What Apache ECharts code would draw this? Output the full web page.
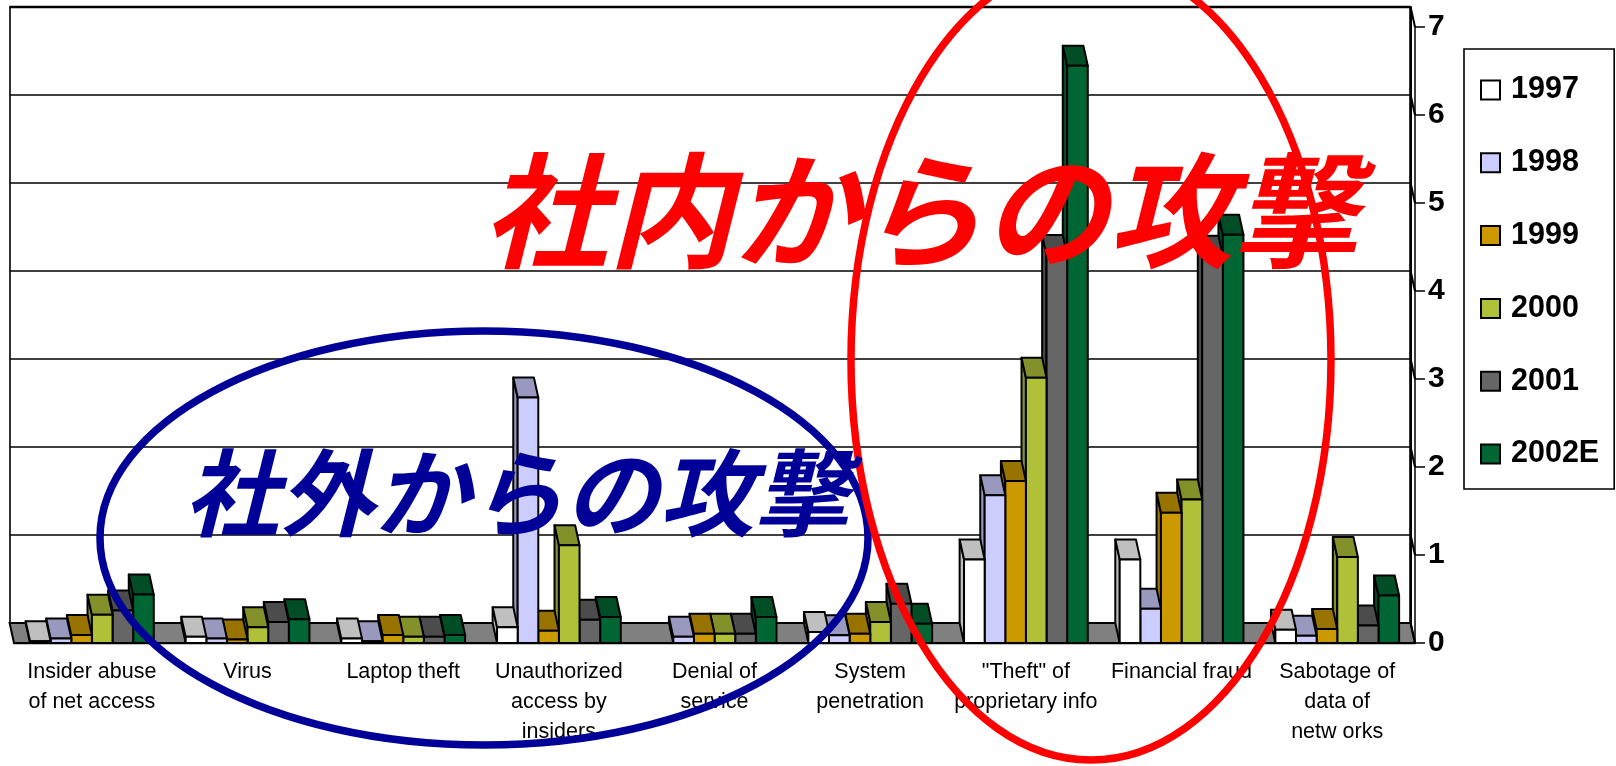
<!DOCTYPE html>
<html><head><meta charset="utf-8">
<style>html,body{margin:0;padding:0;background:#fff}#c{width:1616px;height:766px}</style>
<script src="https://cdn.jsdelivr.net/npm/echarts@6/dist/echarts.min.js"></script>
</head><body><div id="c"></div>
<script>
const categories = ['Insider abuse\nof net access','Virus','Laptop theft','Unauthorized\naccess by\ninsiders','Denial of\nservice','System\npenetration','"Theft" of\nproprietary info','Financial fraud','Sabotage of\ndata of\nnetw orks'];
const years = ['1997','1998','1999','2000','2001','2002E'];
const v1997 = [0.02,0.07,0.05,0.18,0,0.125,0.95,0.95,0.15];
const v1998 = [0.05,0.05,0.02,2.79,0.07,0.087,1.68,0.39,0.083];
const v1999 = [0.09,0.04,0.09,0.14,0.105,0.105,1.84,1.48,0.16];
const v2000 = [0.32,0.18,0.07,1.11,0.105,0.24,3.015,1.63,0.977];
const v2001 = [0.37,0.24,0.07,0.265,0.105,0.447,4.41,4.40,0.2];
const v2002 = [0.55,0.27,0.09,0.295,0.295,0.22,6.56,4.64,0.54];
const values = [v1997,v1998,v1999,v2000,v2001,v2002];
const frontColors = ['#FFFFFF','#CCCCFF','#CC9900','#B0C038','#666666','#006633'];
const topColors = ['#BFBFBF','#9999BF','#997300','#849029','#4C4C4C','#004D26'];
const yTicks = [0,1,2,3,4,5,6,7];
const DX = -4.4, DY = -20, LW = 2;

const chart = echarts.init(document.getElementById('c'), null, {renderer:'canvas'});
const barSeries = years.map((y,s)=>({
  type:'custom', name:y, xAxisIndex:1, yAxisIndex:1, z:3+(years.length-s),
  itemStyle:{color:frontColors[s],borderColor:'#000',borderWidth:2},
  data: values[s].map((v,i)=>[i,v]),
  renderItem(params,api){
    const i=api.value(0), v=api.value(1);
    if(!v) return {type:'group',children:[]};
    const band=api.size([1,0])[0];
    const c=api.coord([i,v]), b=api.coord([i,0]);
    const pad=band*0.103, w=band*0.1325;
    const x=c[0]-band/2+pad+s*w, yT=c[1], yB=b[1];
    const st=(f)=>({fill:f,stroke:'#000',lineWidth:LW,lineJoin:'round'});
    return {type:'group',children:[
      {type:'polygon',shape:{points:[[x,yT],[x+DX,yT+DY],[x+DX,yB+DY],[x,yB]]},style:st(topColors[s])},
      {type:'polygon',shape:{points:[[x,yT],[x+DX,yT+DY],[x+w+DX,yT+DY],[x+w,yT]]},style:st(topColors[s])},
      {type:'rect',shape:{x:x,y:yT,width:w,height:yB-yT},style:st(frontColors[s])}
    ]};
  }
}));
const floorSeries = {
  type:'custom', xAxisIndex:1, yAxisIndex:1, z:2, silent:true, legendHoverLink:false,
  data:[[0,0]],
  renderItem(params,api){
    const band=api.size([1,0])[0];
    const a=api.coord([0,0]), e=api.coord([categories.length-1,0]);
    const l=a[0]-band/2, r=e[0]+band/2, y=a[1];
    return {type:'polygon',shape:{points:[[l,y],[l+DX,y+DY],[r+DX,y+DY],[r,y]]},
      style:{fill:'#808080',stroke:'#000',lineWidth:LW}};
  }
};
const wallSeries = {
  type:'custom', xAxisIndex:1, yAxisIndex:1, z:2, silent:true,
  data:yTicks.map(t=>[categories.length-1,t]),
  renderItem(params,api){
    const band=api.size([1,0])[0];
    const c=api.coord([api.value(0),api.value(1)]);
    const r=c[0]+band/2, y=c[1];
    const kids=[{type:'line',shape:{x1:r,y1:y,x2:r+DX,y2:y+DY},style:{stroke:'#000',lineWidth:LW}}];
    if(api.value(1)<7){
      const t=api.coord([api.value(0),api.value(1)+1])[1];
      kids.push({type:'line',shape:{x1:r+DX,y1:t+DY,x2:r+DX,y2:y+DY},style:{stroke:'#000',lineWidth:2.8}});
    } else {
      const l=api.coord([0,0])[0]-band/2;
      kids.push({type:'line',shape:{x1:l+DX,y1:y+DY,x2:r+DX,y2:y+DY},style:{stroke:'#000',lineWidth:2.6}});
    }
    return {type:'group',children:kids};
  }
};

chart.setOption({
  animation:false, backgroundColor:'#fff',
  grid:[
    {left:10,top:7,width:1401,height:616,show:true,borderColor:'#000',borderWidth:1.6,backgroundColor:'#fff'},
    {left:14,top:27,width:1401,height:616}
  ],
  xAxis:[
    {gridIndex:0,type:'category',data:categories,axisLine:{show:false},axisTick:{show:false},axisLabel:{show:false}},
    {gridIndex:1,type:'category',data:categories,
      axisLine:{lineStyle:{color:'#000',width:2.4}},
      axisTick:{length:10,interval:0,lineStyle:{color:'#000',width:1.5}},
      axisLabel:{interval:0,color:'#000',fontFamily:'"Liberation Sans",Arial,sans-serif',fontSize:21.5,lineHeight:30,margin:14,hideOverlap:false}}
  ],
  yAxis:[
    {gridIndex:0,type:'value',min:0,max:7,interval:1,axisLine:{show:false},axisTick:{show:false},axisLabel:{show:false},
      splitLine:{show:true,lineStyle:{color:'#000',width:1.6}}},
    {gridIndex:1,type:'value',min:0,max:7,interval:1,position:'right',splitLine:{show:false},
      axisLine:{show:true,onZero:false,lineStyle:{color:'#000',width:1.5}},
      axisTick:{show:true,length:10,lineStyle:{color:'#000',width:1.5}},
      axisLabel:{color:'#000',fontFamily:'"Liberation Sans",Arial,sans-serif',fontSize:30,fontWeight:'bold',margin:13}}
  ],
  legend:{
    show:true,orient:'vertical',left:1464,top:49,data:years,icon:'rect',
    itemWidth:19,itemHeight:19,itemGap:41.8,
    padding:[25.5,15,19.5,16],borderColor:'#000',borderWidth:1.6,backgroundColor:'#fff',
    selectedMode:false,
    itemStyle:{borderColor:'#000',borderWidth:2},
    textStyle:{color:'#000',fontFamily:'"Liberation Sans",Arial,sans-serif',fontSize:30.5,fontWeight:'bold',padding:[0,0,0,6],lineHeight:30}
  },
  tooltip:{show:false},
  series:[floorSeries,wallSeries].concat(barSeries),
  graphic:[
    {type:'ellipse',z:100,silent:true,shape:{cx:484,cy:538,rx:384,ry:207},style:{fill:'none',stroke:'#000099',lineWidth:7.5}},
    {type:'ellipse',z:101,silent:true,shape:{cx:1091,cy:360,rx:240,ry:400},style:{fill:'none',stroke:'#FF0000',lineWidth:7.5}},
    {type:'text',z:102,silent:true,x:184,y:445,style:{text:'社外からの攻撃',fill:'#000099',fontSize:95,fontStyle:'italic',fontWeight:'bold',fontFamily:'"Noto Sans CJK JP"'}},
    {type:'text',z:103,silent:true,x:483,y:148,style:{text:'社内からの攻撃',fill:'#FF0000',fontSize:125,fontStyle:'italic',fontWeight:'bold',fontFamily:'"Noto Sans CJK JP"'}}
  ]
});
</script></body></html>
